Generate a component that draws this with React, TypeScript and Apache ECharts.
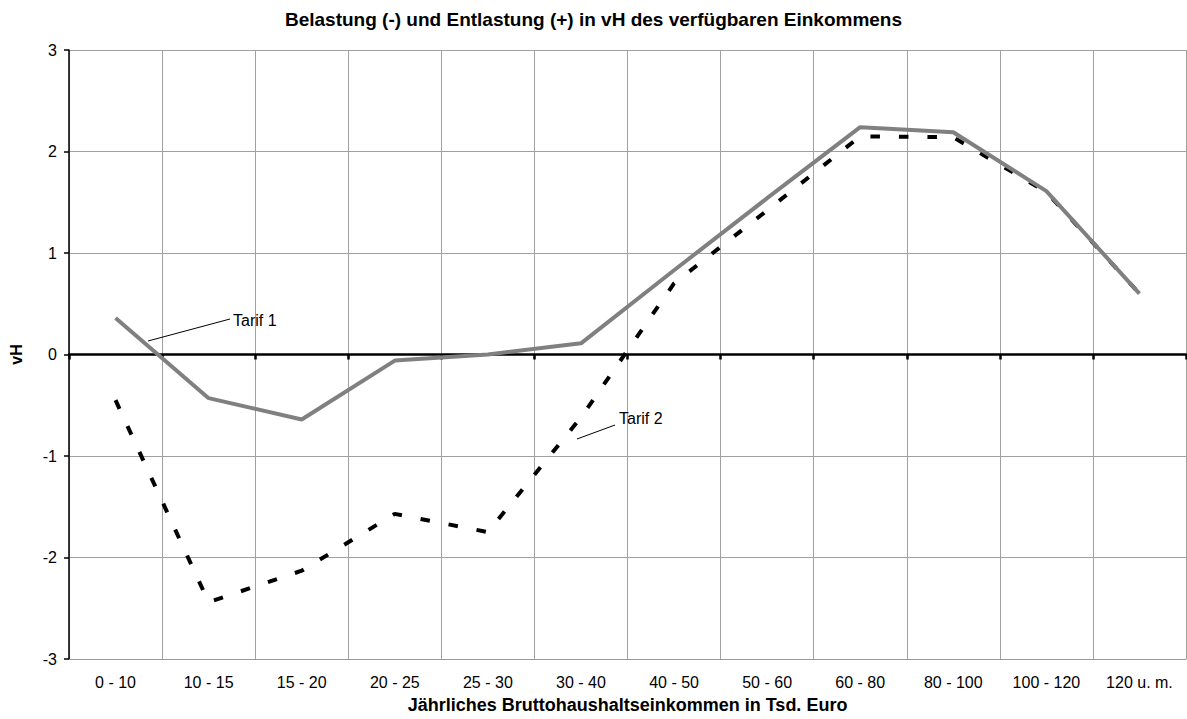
import React, { useEffect, useRef } from "react";
import * as echarts from "echarts";

const categories = ["0 - 10", "10 - 15", "15 - 20", "20 - 25", "25 - 30", "30 - 40", "40 - 50", "50 - 60", "60 - 80", "80 - 100", "100 - 120", "120 u. m."];
const tarif1 = [0.36, -0.43, -0.64, -0.06, 0.0, 0.11, 0.83, 1.54, 2.24, 2.19, 1.61, 0.6];
const tarif2 = [-0.45, -2.44, -2.13, -1.57, -1.75, -0.62, 0.7, 1.42, 2.15, 2.14, 1.6, 0.6];
const yMin = -3;
const yMax = 3;
const yStep = 1;

const FONT = "'Liberation Sans', Arial, sans-serif";

export default function App() {
  const ref = useRef<HTMLDivElement>(null);
  useEffect(() => {
    if (!ref.current) return;
    const chart = echarts.init(ref.current, null, { renderer: "svg" });
    chart.setOption({
      animation: false,
      backgroundColor: "#ffffff",
      textStyle: { fontFamily: FONT, color: "#000" },
      title: {
        text: "Belastung (-) und Entlastung (+) in vH des verfügbaren Einkommens",
        left: "center",
        top: 5,
        textStyle: { fontFamily: FONT, fontSize: 19, fontWeight: "bold", color: "#000" },
      },
      grid: { left: 65, right: 1, top: 50, bottom: 60, containLabel: false },
      xAxis: [
        {
          type: "category",
          data: categories,
          boundaryGap: true,
          position: "bottom",
          axisLine: { onZero: false, lineStyle: { color: "#999", width: 1 } },
          axisTick: { show: false },
          splitLine: { show: true, interval: 0, lineStyle: { color: "#a0a0a0", width: 1 } },
          axisLabel: { interval: 0, fontSize: 16, margin: 15, color: "#000", fontFamily: FONT },
          name: "Jährliches Bruttohaushaltseinkommen in Tsd. Euro",
          nameLocation: "middle",
          nameGap: 37,
          nameTextStyle: { fontSize: 18, fontWeight: "bold", color: "#000", fontFamily: FONT },
        },
        {
          type: "category",
          data: categories,
          boundaryGap: true,
          position: "bottom",
          axisLine: { onZero: true, lineStyle: { color: "#000", width: 2.5 } },
          axisTick: { show: true, interval: 0, length: 5, lineStyle: { color: "#000", width: 2.5 } },
          axisLabel: { show: false },
          splitLine: { show: false },
        },
      ],
      yAxis: {
        type: "value",
        min: yMin,
        max: yMax,
        interval: yStep,
        axisLine: { show: true, lineStyle: { color: "#000", width: 1.5 } },
        axisTick: { show: true, length: 5, lineStyle: { color: "#000", width: 1.5 } },
        splitLine: { show: true, lineStyle: { color: "#a0a0a0", width: 1 } },
        axisLabel: { fontSize: 16, margin: 12, color: "#000", fontFamily: FONT },
        name: "vH",
        nameLocation: "middle",
        nameRotate: 90,
        nameGap: 45,
        nameTextStyle: { fontSize: 16, fontWeight: "bold", color: "#000", fontFamily: FONT },
      },
      series: [
        {
          name: "Tarif 2",
          type: "line",
          data: tarif2,
          xAxisIndex: 0,
          showSymbol: false,
          symbol: "none",
          z: 3,
          lineStyle: { color: "#000", width: 4, type: [9.5, 19], cap: "butt" },
        },
        {
          name: "Tarif 1",
          type: "line",
          data: tarif1,
          xAxisIndex: 0,
          showSymbol: false,
          symbol: "none",
          z: 4,
          lineStyle: { color: "#808080", width: 4 },
        },
      ],
      graphic: [
        { type: "line", shape: { x1: 148, y1: 341, x2: 230, y2: 319 }, style: { stroke: "#000", lineWidth: 1 }, z: 10 },
        { type: "text", x: 233, y: 320, style: { text: "Tarif 1", fontSize: 16, fontFamily: FONT, fill: "#000", verticalAlign: "middle" }, z: 10 },
        { type: "line", shape: { x1: 577, y1: 439, x2: 615, y2: 425 }, style: { stroke: "#000", lineWidth: 1 }, z: 10 },
        { type: "text", x: 619, y: 418, style: { text: "Tarif 2", fontSize: 16, fontFamily: FONT, fill: "#000", verticalAlign: "middle" }, z: 10 },
      ],
    });
    return () => chart.dispose();
  }, []);
  return <div ref={ref} style={{ position: "fixed", left: 0, top: 0, width: 1187, height: 719 }} />;
}
